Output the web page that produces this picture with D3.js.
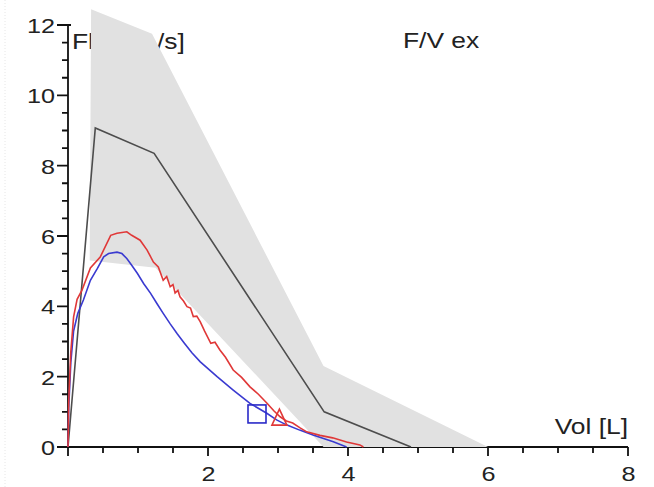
<!DOCTYPE html>
<html>
<head>
<meta charset="utf-8">
<script src="https://cdn.jsdelivr.net/npm/d3@7"></script>
<style>
  html, body { margin: 0; padding: 0; background: #fff; }
  svg { display: block; font-family: "Liberation Sans", Arial, sans-serif; }
</style>
</head>
<body>
<svg id="chart" width="654" height="487"></svg>
<script>
// Axis ticks
const xTicksMajor = [2, 4, 6, 8];
const yTicksMajor = [0, 2, 4, 6, 8, 10, 12];

// Predicted mean curve
const meanVol = [0, 0.39, 1.23, 3.66, 4.9];
const meanFlow = [0, 9.07, 8.35, 1.0, 0];

// Predicted range (grey band)
const bandUpperVol = [0.33, 1.2, 3.65, 6.0];
const bandUpperFlow = [12.45, 11.75, 2.3, 0];
const bandLowerVol = [0.31, 1.25, 3.65];
const bandLowerFlow = [5.3, 5.1, 0];

// Measured curves
const redVol = [0, 0.01, 0.04, 0.08, 0.13, 0.20, 0.32, 0.46, 0.61, 0.70, 0.84, 0.91, 1.03, 1.13, 1.22, 1.29, 1.36, 1.41, 1.46, 1.50, 1.53, 1.57, 1.60, 1.65, 1.70, 1.75, 1.79, 1.84, 1.89, 1.95, 2.04, 2.10, 2.17, 2.25, 2.36, 2.48, 2.60, 2.72, 2.84, 2.94, 3.03, 3.12, 3.21, 3.31, 3.41, 3.60, 3.78, 3.98, 4.17, 4.22];
const redFlow = [0, 1.3, 2.7, 3.7, 4.2, 4.46, 5.09, 5.40, 6.02, 6.08, 6.12, 6.02, 5.88, 5.60, 5.26, 5.12, 4.74, 4.85, 4.56, 4.62, 4.38, 4.45, 4.27, 4.15, 3.99, 3.95, 3.71, 3.72, 3.56, 3.30, 2.95, 2.98, 2.76, 2.55, 2.19, 1.98, 1.71, 1.50, 1.25, 1.03, 0.86, 0.74, 0.68, 0.55, 0.43, 0.33, 0.26, 0.14, 0.06, 0];
const blueVol = [0, 0.01, 0.04, 0.08, 0.14, 0.22, 0.32, 0.42, 0.51, 0.58, 0.70, 0.77, 0.84, 0.91, 0.99, 1.08, 1.18, 1.27, 1.36, 1.46, 1.56, 1.66, 1.77, 1.89, 2.13, 2.36, 2.60, 2.84, 2.98, 3.12, 3.31, 3.50, 3.79, 3.98];
const blueFlow = [0, 1.1, 2.4, 3.3, 3.8, 4.18, 4.74, 5.08, 5.41, 5.50, 5.54, 5.50, 5.36, 5.17, 4.94, 4.65, 4.37, 4.08, 3.80, 3.50, 3.22, 2.96, 2.68, 2.42, 2.00, 1.62, 1.24, 0.96, 0.77, 0.63, 0.48, 0.34, 0.15, 0];

// End-of-test markers (square = blue, triangle = red)
const markerVol = [2.70, 3.02];
const markerFlow = [0.94, 0.82];

const svg = d3.select('#chart');

const x = d3.scaleLinear().domain([0, 8]).range([68, 628]);
const y = d3.scaleLinear().domain([0, 12]).range([447, 25]);

const stretch = 'scale(1.2,1)';
const isMajor = (v, list) => list.some(m => Math.abs(m - v) < 1e-6);
const axisColor = '#111';

// faint dotted frame on the left
svg.append('line')
  .attr('x1', 5).attr('x2', 5).attr('y1', 0).attr('y2', 487)
  .attr('stroke', '#e6e6e6').attr('stroke-dasharray', '1,2');

// Y axis labels
const yAxis = svg.append('g')
  .attr('transform', `translate(${x(0)},0)`)
  .call(d3.axisLeft(y).tickValues(yTicksMajor).tickSize(0).tickPadding(0));
yAxis.select('.domain').remove();
yAxis.selectAll('.tick line').remove();
yAxis.selectAll('.tick text')
  .attr('x', 0).attr('dy', '0.36em')
  .attr('transform', `translate(-13,0) ${stretch}`)
  .attr('fill', '#222').attr('font-size', 21)
  .attr('font-family', '"Liberation Sans", Arial, sans-serif');

// X axis labels
const xAxis = svg.append('g')
  .attr('transform', `translate(0,${y(0)})`)
  .call(d3.axisBottom(x).tickValues(xTicksMajor).tickSize(0).tickPadding(0));
xAxis.select('.domain').remove();
xAxis.selectAll('.tick line').remove();
xAxis.selectAll('.tick text')
  .attr('y', 0).attr('dy', 0)
  .attr('transform', `translate(0,34) ${stretch}`)
  .attr('fill', '#222').attr('font-size', 21)
  .attr('font-family', '"Liberation Sans", Arial, sans-serif');

// Axis lines and tick marks, one path built from the scales
const yMinor = d3.range(0, 25).map(i => i * 0.5);
const xMinor = d3.range(0, 17).map(i => i * 0.5);
let axisD = `M${x(0)},${y(12)}H${x(0) + 3}M${x(0)},${y(12)}V${y(0)}H${x(8)}`;
yMinor.forEach((v) => {
  const len = isMajor(v, yTicksMajor) ? 11 : 6;
  axisD += `M${x(0) - len},${y(v)}H${x(0)}`;
});
xMinor.forEach((v) => {
  const len = isMajor(v, xTicksMajor.concat([0])) ? 9 : 6;
  axisD += `M${x(v)},${y(0)}V${y(0) + len}`;
});
svg.append('path')
  .attr('d', axisD)
  .attr('fill', 'none')
  .attr('stroke', axisColor)
  .attr('stroke-width', 1.8);

// Axis titles
const label = (text, px, py, anchor) => svg.append('text')
  .attr('transform', `translate(${px},${py}) ${stretch}`)
  .attr('text-anchor', anchor)
  .attr('font-size', 22)
  .attr('fill', '#222')
  .text(text);

label('Flow [L/s]', 72, 49, 'start');
label('F/V ex', 403, 48, 'start');
label('Vol [L]', 628, 434, 'end');

// Grey band (drawn above labels and axis line, as in the original)
const bandPts = bandUpperVol.map((v, i) => [v, bandUpperFlow[i]])
  .concat(bandLowerVol.map((v, i) => [v, bandLowerFlow[i]]).reverse());
svg.append('path')
  .attr('d', d3.line().x(d => x(d[0])).y(d => y(d[1]))(bandPts) + 'Z')
  .attr('fill', '#e1e1e1');

const line = d3.line().x(d => x(d[0])).y(d => y(d[1]));
const zipPts = (a, b) => a.map((v, i) => [v, b[i]]);

svg.append('path')
  .attr('d', line(zipPts(meanVol, meanFlow)))
  .attr('fill', 'none').attr('stroke', '#4d4d4d').attr('stroke-width', 1.6);

svg.append('path')
  .attr('d', line(zipPts(blueVol, blueFlow)))
  .attr('fill', 'none').attr('stroke', '#3a3ad0').attr('stroke-width', 1.6);

svg.append('path')
  .attr('d', line(zipPts(redVol, redFlow)))
  .attr('fill', 'none').attr('stroke', '#e03838').attr('stroke-width', 1.6);

// Markers
svg.append('rect')
  .attr('x', x(markerVol[0]) - 9).attr('y', y(markerFlow[0]) - 9)
  .attr('width', 18).attr('height', 18)
  .attr('fill', 'none').attr('stroke', '#2a2ac8').attr('stroke-width', 1.6);

const tx = x(markerVol[1]);
const ty = y(markerFlow[1]);
svg.append('path')
  .attr('d', `M${tx},${ty - 9}L${tx + 7.5},${ty + 7}L${tx - 7.5},${ty + 7}Z`)
  .attr('fill', 'none').attr('stroke', '#e03838').attr('stroke-width', 1.6);
</script>
</body>
</html>
